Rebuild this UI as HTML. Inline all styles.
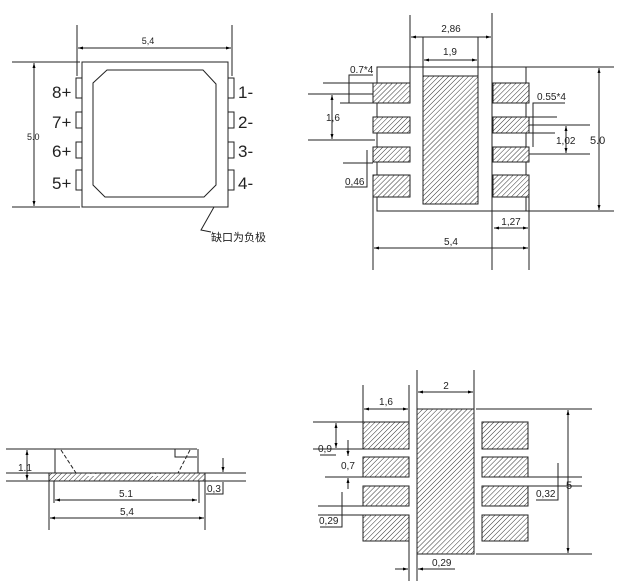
<!DOCTYPE html>
<html><head><meta charset="utf-8"><style>
html,body{margin:0;padding:0;background:#fff;}
svg{display:block;}
text{font-family:"Liberation Sans","Noto Sans CJK SC",sans-serif;fill:#222;}
</style></head><body>
<svg width="628" height="581" viewBox="0 0 628 581" xmlns="http://www.w3.org/2000/svg">
<defs>
<pattern id="h" width="3.5" height="3.5" patternUnits="userSpaceOnUse" patternTransform="rotate(45)">
<line x1="0" y1="0" x2="0" y2="3.5" stroke="#333" stroke-width="1"/>
</pattern>
<marker id="a" viewBox="0 0 10 10" refX="10" refY="5" markerWidth="6" markerHeight="5" orient="auto-start-reverse"><path d="M0,2 L10,5 L0,8z" fill="#000"/></marker>
</defs>
<g stroke="#222" stroke-width="1" fill="none">
<rect x="82" y="62" width="146" height="145"/>
<path d="M107,70 L203,70 L216,84 L216,185 L204,197 L105,197 L93,185 L93,83 Z"/>
<rect x="76" y="78" width="6" height="20"/><rect x="76" y="112" width="6" height="16"/><rect x="76" y="142" width="6" height="16"/><rect x="76" y="170" width="6" height="20"/>
<rect x="228" y="78" width="6" height="20"/><rect x="228" y="112" width="6" height="16"/><rect x="228" y="142" width="6" height="16"/><rect x="228" y="170" width="6" height="20"/>
<line x1="77" y1="25" x2="77" y2="76"/><line x1="232" y1="25" x2="232" y2="76"/>
<line x1="78" y1="48" x2="231" y2="48" marker-start="url(#a)" marker-end="url(#a)"/>
<line x1="12" y1="62" x2="80" y2="62"/><line x1="12" y1="207" x2="80" y2="207"/>
<line x1="34" y1="63" x2="34" y2="206" marker-start="url(#a)" marker-end="url(#a)"/>
<polyline points="214,207 201,230 211,232"/>
</g>
<g font-size="9"><text x="148" y="44" text-anchor="middle">5,4</text><text x="27" y="140">5.0</text></g>
<g font-size="17"><text x="52" y="98">8+</text><text x="52" y="128">7+</text><text x="52" y="157">6+</text><text x="52" y="189">5+</text>
<text x="238" y="98">1-</text><text x="238" y="128">2-</text><text x="238" y="157">3-</text><text x="238" y="189">4-</text></g>
<text x="211" y="241" font-size="11">缺口为负极</text>

<g stroke="#222" stroke-width="1">
<rect x="377" y="67" width="149" height="144" fill="none"/>
<g fill="url(#h)" stroke="#222">
<rect x="373" y="83" width="37" height="20" fill="#fff"/><rect x="373" y="83" width="37" height="20"/>
<rect x="373" y="117" width="37" height="16" fill="#fff"/><rect x="373" y="117" width="37" height="16"/>
<rect x="373" y="147" width="37" height="15" fill="#fff"/><rect x="373" y="147" width="37" height="15"/>
<rect x="373" y="175" width="37" height="22" fill="#fff"/><rect x="373" y="175" width="37" height="22"/>
<rect x="493" y="83" width="36" height="20" fill="#fff"/><rect x="493" y="83" width="36" height="20"/>
<rect x="493" y="117" width="36" height="16" fill="#fff"/><rect x="493" y="117" width="36" height="16"/>
<rect x="493" y="147" width="36" height="15" fill="#fff"/><rect x="493" y="147" width="36" height="15"/>
<rect x="493" y="175" width="36" height="22" fill="#fff"/><rect x="493" y="175" width="36" height="22"/>
<rect x="423" y="76" width="55" height="128" fill="#fff"/><rect x="423" y="76" width="55" height="128"/>
</g>
<g fill="none">
<line x1="526" y1="67" x2="614" y2="67"/><line x1="526" y1="211" x2="614" y2="211"/>
<line x1="599" y1="68" x2="599" y2="210" marker-start="url(#a)" marker-end="url(#a)"/>
<line x1="410" y1="15" x2="410" y2="83"/><line x1="492" y1="13" x2="492" y2="270"/>
<line x1="411" y1="37" x2="491" y2="37" marker-start="url(#a)" marker-end="url(#a)"/>
<line x1="423" y1="37" x2="423" y2="76"/><line x1="478" y1="37" x2="478" y2="76"/>
<line x1="424" y1="60" x2="477" y2="60" marker-start="url(#a)" marker-end="url(#a)"/>
<line x1="373" y1="197" x2="373" y2="270"/><line x1="529" y1="197" x2="529" y2="270"/>
<line x1="374" y1="248" x2="528" y2="248" marker-start="url(#a)" marker-end="url(#a)"/>
<line x1="494" y1="228" x2="528" y2="228" marker-start="url(#a)" marker-end="url(#a)"/>
<polyline points="373,75 349,75 349,103"/>
<line x1="323" y1="83" x2="373" y2="83"/><line x1="308" y1="94" x2="373" y2="94"/>
<line x1="340" y1="103" x2="373" y2="103"/>
<line x1="332" y1="95" x2="332" y2="139" marker-start="url(#a)" marker-end="url(#a)"/>
<line x1="308" y1="140" x2="375" y2="140"/>
<line x1="343" y1="163" x2="373" y2="163"/>
<polyline points="367,150 367,187 345,187"/>
<polyline points="565,103 533,103 533,147"/>
<line x1="529" y1="117" x2="557" y2="117"/>
<line x1="529" y1="125" x2="590" y2="125"/><line x1="529" y1="133" x2="555" y2="133"/><line x1="529" y1="154" x2="590" y2="154"/>
<line x1="566" y1="126" x2="566" y2="153" marker-start="url(#a)" marker-end="url(#a)"/>
</g>
</g>
<g font-size="10">
<text x="451" y="32" text-anchor="middle">2,86</text><text x="450" y="55" text-anchor="middle">1,9</text>
<text x="350" y="73">0.7*4</text><text x="326" y="121">1,6</text><text x="345" y="185">0,46</text>
<text x="537" y="100">0.55*4</text><text x="556" y="144">1,02</text><text x="590" y="144" font-size="11">5.0</text>
<text x="511" y="225" text-anchor="middle">1,27</text><text x="451" y="245" text-anchor="middle">5,4</text>
</g>

<g stroke="#222" stroke-width="1" fill="none">
<line x1="6" y1="449" x2="197" y2="449"/>
<line x1="55" y1="449" x2="55" y2="473"/><line x1="198" y1="449" x2="198" y2="473"/>
<polyline points="175,449 175,457 197,457"/>
<line x1="61" y1="450" x2="76" y2="473" stroke-dasharray="4,2"/>
<line x1="190" y1="450" x2="178" y2="473" stroke-dasharray="4,2"/>
<rect x="49" y="473" width="156" height="8" fill="url(#h)"/>
<line x1="6" y1="473" x2="246" y2="473"/><line x1="6" y1="481" x2="246" y2="481"/>
<line x1="49" y1="481" x2="49" y2="530"/><line x1="205" y1="481" x2="205" y2="530"/>
<line x1="54" y1="481" x2="54" y2="503"/><line x1="199" y1="481" x2="199" y2="503"/>
<line x1="55" y1="500" x2="197" y2="500" marker-start="url(#a)" marker-end="url(#a)"/>
<line x1="50" y1="518" x2="204" y2="518" marker-start="url(#a)" marker-end="url(#a)"/>
<line x1="27" y1="450" x2="27" y2="480" marker-start="url(#a)" marker-end="url(#a)"/>
<line x1="223" y1="458" x2="223" y2="472" marker-end="url(#a)"/>
<polyline points="223,482 223,494 206,494"/>
</g>
<rect x="88" y="474" width="10" height="2" fill="#fff"/><rect x="152" y="474" width="10" height="2" fill="#fff"/>
<g font-size="10"><text x="18" y="471">1.1</text><text x="126" y="497" text-anchor="middle">5.1</text><text x="127" y="515" text-anchor="middle">5,4</text><text x="207" y="492">0,3</text></g>

<g stroke="#222" stroke-width="1">
<g fill="url(#h)">
<rect x="417" y="409" width="57" height="145"/>
<rect x="363" y="422" width="46" height="27"/><rect x="363" y="457" width="46" height="20"/><rect x="363" y="486" width="46" height="20"/><rect x="363" y="515" width="46" height="26"/>
<rect x="482" y="422" width="46" height="27"/><rect x="482" y="457" width="46" height="20"/><rect x="482" y="486" width="46" height="20"/><rect x="482" y="515" width="46" height="26"/>
</g>
<g fill="none">
<line x1="417" y1="370" x2="417" y2="581"/><line x1="474" y1="370" x2="474" y2="409"/>
<line x1="418" y1="392" x2="473" y2="392" marker-start="url(#a)" marker-end="url(#a)"/>
<line x1="363" y1="385" x2="363" y2="422"/><line x1="409" y1="385" x2="409" y2="422"/>
<line x1="364" y1="409" x2="408" y2="409" marker-start="url(#a)" marker-end="url(#a)"/>
<line x1="313" y1="422" x2="363" y2="422"/><line x1="313" y1="449" x2="409" y2="449"/>
<line x1="336" y1="423" x2="336" y2="448" marker-start="url(#a)" marker-end="url(#a)"/>
<line x1="320" y1="455" x2="336" y2="455"/>
<line x1="348" y1="440" x2="348" y2="456" marker-end="url(#a)"/>
<line x1="348" y1="489" x2="348" y2="478" marker-end="url(#a)"/>
<line x1="325" y1="477" x2="409" y2="477"/>
<line x1="318" y1="506" x2="363" y2="506"/><line x1="318" y1="515" x2="363" y2="515"/>
<polyline points="342,492 342,527 320,527"/>
<line x1="528" y1="477" x2="582" y2="477"/><line x1="528" y1="486" x2="582" y2="486"/>
<polyline points="558,463 558,500 536,500"/>
<line x1="476" y1="409" x2="592" y2="409"/><line x1="476" y1="554" x2="592" y2="554"/>
<line x1="568" y1="410" x2="568" y2="553" marker-start="url(#a)" marker-end="url(#a)"/>
<line x1="409" y1="541" x2="409" y2="581"/>
<line x1="395" y1="569" x2="408" y2="569" marker-end="url(#a)"/>
<line x1="455" y1="569" x2="418" y2="569" marker-end="url(#a)"/>
</g>
</g>
<g font-size="10">
<text x="446" y="389" text-anchor="middle">2</text><text x="386" y="405" text-anchor="middle">1,6</text>
<text x="318" y="452">0,9</text><text x="341" y="469">0,7</text><text x="319" y="524">0,29</text>
<text x="536" y="497">0,32</text><text x="566" y="489" font-size="11">5</text><text x="432" y="566">0,29</text>
</g>
</svg>
</body></html>
